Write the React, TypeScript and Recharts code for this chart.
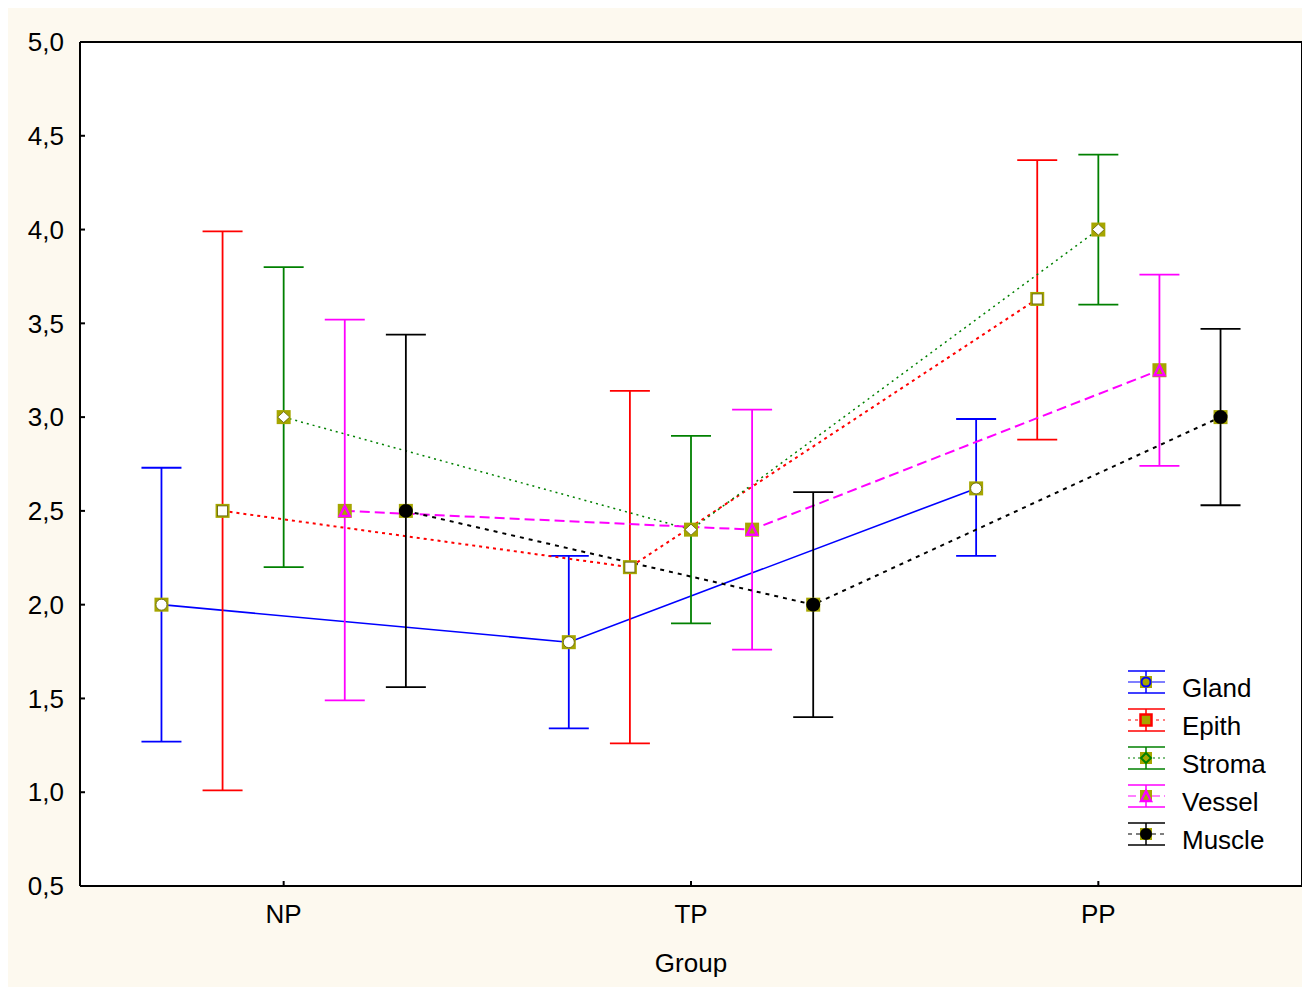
import React from "react";
import {
  ComposedChart,
  Line,
  XAxis,
  YAxis,
  ErrorBar,
  CartesianGrid,
  ReferenceLine,
  Label,
} from "recharts";

const groups = ["NP", "TP", "PP"];
const yTicks = [0.5, 1.0, 1.5, 2.0, 2.5, 3.0, 3.5, 4.0, 4.5, 5.0];

const glandMean = [2.0, 1.8, 2.62];
const glandLow = [1.27, 1.34, 2.26];
const glandHigh = [2.73, 2.26, 2.99];

const epithMean = [2.5, 2.2, 3.63];
const epithLow = [1.01, 1.26, 2.88];
const epithHigh = [3.99, 3.14, 4.37];

const stromaMean = [3.0, 2.4, 4.0];
const stromaLow = [2.2, 1.9, 3.6];
const stromaHigh = [3.8, 2.9, 4.4];

const vesselMean = [2.5, 2.4, 3.25];
const vesselLow = [1.49, 1.76, 2.74];
const vesselHigh = [3.52, 3.04, 3.76];

const muscleMean = [2.5, 2.0, 3.0];
const muscleLow = [1.56, 1.4, 2.53];
const muscleHigh = [3.44, 2.6, 3.47];

const OLIVE = "#a6a600";
const DARK_OLIVE = "#5e5e00";

// each group is drawn a bit left/right of its category
const makeRows = (mean: number[], low: number[], high: number[], shift: number) =>
  mean.map((m, i) => ({
    x: i + 1 + shift,
    mean: m,
    err: [m - low[i], high[i] - m],
  }));

const glandRows = makeRows(glandMean, glandLow, glandHigh, -0.3);
const epithRows = makeRows(epithMean, epithLow, epithHigh, -0.15);
const stromaRows = makeRows(stromaMean, stromaLow, stromaHigh, 0);
const vesselRows = makeRows(vesselMean, vesselLow, vesselHigh, 0.15);
const muscleRows = makeRows(muscleMean, muscleLow, muscleHigh, 0.3);

const box = (cx: number, cy: number) => (
  <rect x={cx - 7} y={cy - 7} width={14} height={14} fill={OLIVE} />
);

const glandDot = (p: any) => (
  <g key={`g${p.index}`}>
    {box(p.cx, p.cy)}
    <circle cx={p.cx} cy={p.cy} r={5.5} fill="#fff" stroke={DARK_OLIVE} strokeWidth={0.8} />
  </g>
);
const epithDot = (p: any) => (
  <g key={`e${p.index}`}>
    {box(p.cx, p.cy)}
    <rect x={p.cx - 5} y={p.cy - 5} width={10} height={10} fill="#fff" stroke={DARK_OLIVE} strokeWidth={0.8} />
  </g>
);
const stromaDot = (p: any) => (
  <g key={`s${p.index}`}>
    {box(p.cx, p.cy)}
    <polygon
      points={`${p.cx},${p.cy - 5.5} ${p.cx + 6},${p.cy} ${p.cx},${p.cy + 5.5} ${p.cx - 6},${p.cy}`}
      fill="#fff"
      stroke={DARK_OLIVE}
      strokeWidth={0.8}
    />
  </g>
);
const vesselDot = (p: any) => (
  <g key={`v${p.index}`}>
    {box(p.cx, p.cy)}
    <polygon
      points={`${p.cx},${p.cy - 5} ${p.cx + 5},${p.cy + 5} ${p.cx - 5},${p.cy + 5}`}
      fill="none"
      stroke="#ff00ff"
      strokeWidth={2.5}
    />
  </g>
);
const muscleDot = (p: any) => (
  <g key={`m${p.index}`}>
    {box(p.cx, p.cy)}
    <circle cx={p.cx} cy={p.cy} r={7} fill="#000" />
  </g>
);

const legendItems = [
  { name: "Gland", color: "#0000ff", dash: undefined, kind: "circle" },
  { name: "Epith", color: "#ff0000", dash: "3 4", kind: "square" },
  { name: "Stroma", color: "#008000", dash: "2 3", kind: "diamond" },
  { name: "Vessel", color: "#ff00ff", dash: "8 4", kind: "triangle" },
  { name: "Muscle", color: "#000000", dash: "4 4", kind: "dot" },
];

const LegendMark = ({ kind, color }: { kind: string; color: string }) => {
  if (kind === "circle")
    return (
      <g>
        <rect x={12} y={5} width={12} height={12} fill={OLIVE} />
        <circle cx={18} cy={11} r={4.5} fill={OLIVE} stroke={color} strokeWidth={2} />
      </g>
    );
  if (kind === "square")
    return <rect x={12.5} y={5.5} width={11} height={11} fill={OLIVE} stroke={color} strokeWidth={2.5} />;
  if (kind === "diamond")
    return (
      <g>
        <rect x={12} y={5} width={12} height={12} fill={OLIVE} />
        <polygon points="18,6 23,11 18,16 13,11" fill={OLIVE} stroke={color} strokeWidth={2} />
      </g>
    );
  if (kind === "triangle")
    return (
      <g>
        <rect x={12} y={5} width={12} height={12} fill={OLIVE} />
        <polygon points="18,6 23,16 13,16" fill="none" stroke={color} strokeWidth={2.5} />
      </g>
    );
  return (
    <g>
      <rect x={12} y={5} width={12} height={12} fill={OLIVE} />
      <circle cx={18} cy={11} r={6} fill="#000" />
    </g>
  );
};

const SeriesLegend = () => (
  <div style={{ position: "absolute", left: 1120, top: 656, width: 170 }}>
    {legendItems.map((it) => (
      <div key={it.name} style={{ display: "flex", alignItems: "center", height: 38 }}>
        <svg width={38} height={24} style={{ overflow: "visible" }}>
          <line x1={0} y1={0} x2={37} y2={0} stroke={it.color} strokeWidth={1.5} />
          <line x1={0} y1={22} x2={37} y2={22} stroke={it.color} strokeWidth={1.5} />
          <line x1={18} y1={0} x2={18} y2={22} stroke={it.color} strokeWidth={1.5} />
          <line x1={0} y1={11} x2={37} y2={11} stroke={it.color} strokeWidth={1.2} strokeDasharray={it.dash} />
          <LegendMark kind={it.kind} color={it.color} />
        </svg>
        <span style={{ marginLeft: 16, marginTop: 10, fontSize: 26, color: "#000", lineHeight: "38px" }}>{it.name}</span>
      </div>
    ))}
  </div>
);

const fmt = (v: number) => v.toFixed(1).replace(".", ",");

export default function App() {
  return (
    <div
      style={{
        position: "relative",
        width: 1302,
        height: 979,
        background: "#fdf9ef",
        fontFamily: "'Liberation Sans', Arial, sans-serif",
      }}
    >
      <ComposedChart width={1302} height={979} margin={{ top: 34, right: 8, left: 0, bottom: 0 }}>
        <CartesianGrid horizontal={false} vertical={false} fill="#ffffff" />
        <XAxis
          dataKey="x"
          type="number"
          domain={[0.5, 3.5]}
          ticks={[1, 2, 3]}
          tickFormatter={(v: number) => groups[v - 1]}
          allowDataOverflow
          height={101}
          tickSize={-5}
          tickMargin={24}
          stroke="#000"
          strokeWidth={2}
          tick={{ fill: "#000", fontSize: 26 }}
        >
          <Label value="Group" position="insideBottom" offset={15} fill="#000" fontSize={26} />
        </XAxis>
        <YAxis
          type="number"
          domain={[0.5, 5]}
          ticks={yTicks}
          tickFormatter={fmt}
          allowDataOverflow
          width={72}
          tickSize={-5}
          tickMargin={21}
          stroke="#000"
          strokeWidth={2}
          tick={{ fill: "#000", fontSize: 26 }}
        />
        <ReferenceLine y={5} stroke="#000" strokeWidth={2} />
        <ReferenceLine x={3.5} stroke="#000" strokeWidth={2} />

        <Line data={glandRows} dataKey="mean" stroke="#0000ff" strokeWidth={1.6} dot={glandDot} activeDot={false} isAnimationActive={false}>
          <ErrorBar dataKey="err" direction="y" width={20} stroke="#0000ff" strokeWidth={1.8} />
        </Line>
        <Line data={epithRows} dataKey="mean" stroke="#ff0000" strokeWidth={2} strokeDasharray="3 4" dot={epithDot} activeDot={false} isAnimationActive={false}>
          <ErrorBar dataKey="err" direction="y" width={20} stroke="#ff0000" strokeWidth={1.8} />
        </Line>
        <Line data={stromaRows} dataKey="mean" stroke="#008000" strokeWidth={1.5} strokeDasharray="2 4" dot={stromaDot} activeDot={false} isAnimationActive={false}>
          <ErrorBar dataKey="err" direction="y" width={20} stroke="#008000" strokeWidth={1.8} />
        </Line>
        <Line data={vesselRows} dataKey="mean" stroke="#ff00ff" strokeWidth={2} strokeDasharray="10 5" dot={vesselDot} activeDot={false} isAnimationActive={false}>
          <ErrorBar dataKey="err" direction="y" width={20} stroke="#ff00ff" strokeWidth={1.8} />
        </Line>
        <Line data={muscleRows} dataKey="mean" stroke="#000000" strokeWidth={2} strokeDasharray="4 5" dot={muscleDot} activeDot={false} isAnimationActive={false}>
          <ErrorBar dataKey="err" direction="y" width={20} stroke="#000000" strokeWidth={1.8} />
        </Line>
      </ComposedChart>
      <SeriesLegend />
    </div>
  );
}
